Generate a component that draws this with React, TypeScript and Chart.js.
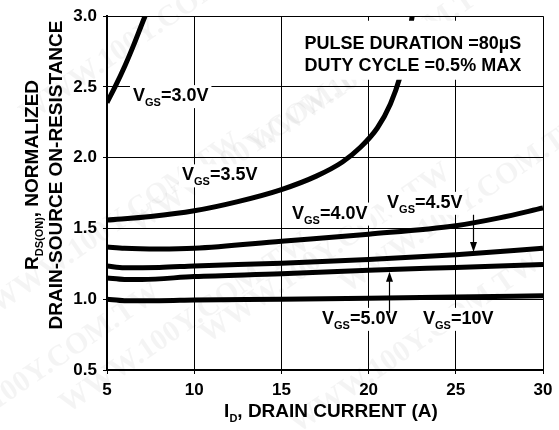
import React, { useEffect, useRef } from "react";
import { Chart, registerables } from "chart.js";

Chart.register(...registerables);

// ---- data ----
const X_MIN = 5;
const X_MAX = 30;
const Y_MIN = 0.5;
const Y_MAX = 3.0;

const vgs10X = [5, 6, 8, 10, 15, 20, 25, 30];
const vgs10Y = [1.0, 0.99, 0.99, 0.995, 1.0, 1.007, 1.015, 1.025];

const vgs50X = [5, 6, 7, 10, 15, 20, 25, 30];
const vgs50Y = [1.15, 1.14, 1.14, 1.16, 1.18, 1.205, 1.225, 1.245];

const vgs45X = [5, 6, 8, 10, 15, 20, 25, 30];
const vgs45Y = [1.235, 1.222, 1.225, 1.235, 1.255, 1.28, 1.315, 1.36];

const vgs40X = [5, 6, 8, 10, 15, 20, 25, 27.5, 30];
const vgs40Y = [1.37, 1.36, 1.355, 1.36, 1.41, 1.46, 1.52, 1.575, 1.645];

const vgs35X = [5, 7.5, 10, 12.5, 15, 17, 18.5, 19.5, 20.5, 21.25, 21.8, 22.2, 22.5, 22.55];
const vgs35Y = [1.56, 1.585, 1.625, 1.69, 1.775, 1.87, 1.97, 2.07, 2.21, 2.38, 2.57, 2.78, 3.0, 3.04];

const vgs30X = [5, 5.46, 6.03, 6.51, 7.18, 7.25];
const vgs30Y = [2.39, 2.5, 2.65, 2.79, 3.0, 3.02];

const seriesNames = ["VGS=10V", "VGS=5.0V", "VGS=4.5V", "VGS=4.0V", "VGS=3.5V", "VGS=3.0V"];
const seriesX = [vgs10X, vgs50X, vgs45X, vgs40X, vgs35X, vgs30X];
const seriesY = [vgs10Y, vgs50Y, vgs45Y, vgs40Y, vgs35Y, vgs30Y];

// curve labels: text after "V_GS", anchor (left, baseline) in data coordinates
const curveLabels: [string, number, number][] = [
  ["=3.0V", 6.49, 2.4],
  ["=3.5V", 9.3, 1.84],
  ["=4.0V", 15.61, 1.57],
  ["=4.5V", 21.06, 1.646],
  ["=5.0V", 17.33, 0.826],
  ["=10V", 23.12, 0.826],
];

const noteLines = ["PULSE DURATION =80\u00B5S", "DUTY CYCLE =0.5% MAX"];

const FONT = '"Liberation Sans", Arial, sans-serif';

function drawRich(
  ctx: CanvasRenderingContext2D,
  parts: { t: string; sub?: boolean }[],
  x: number,
  y: number,
  size: number,
  subSize: number,
  subDrop: number
) {
  let cx = x;
  for (const p of parts) {
    ctx.font = `bold ${p.sub ? subSize : size}px ${FONT}`;
    ctx.fillText(p.t, cx, p.sub ? y + subDrop : y);
    cx += ctx.measureText(p.t).width;
  }
  return cx - x;
}

function richWidth(
  ctx: CanvasRenderingContext2D,
  parts: { t: string; sub?: boolean }[],
  size: number,
  subSize: number
) {
  let w = 0;
  for (const p of parts) {
    ctx.font = `bold ${p.sub ? subSize : size}px ${FONT}`;
    w += ctx.measureText(p.t).width;
  }
  return w;
}

const watermarkPlugin = {
  id: "watermark",
  beforeDraw(chart: any) {
    const ctx = chart.ctx as CanvasRenderingContext2D;
    ctx.save();
    ctx.fillStyle = "rgba(0,0,0,0.045)";
    ctx.font = 'bold 30px "Liberation Serif", serif';
    const spots = [
      [150, 40], [260, 150], [120, 230], [380, 70], [330, 260],
      [190, 330], [470, 210], [420, 350], [40, 380],
    ];
    for (const [x, y] of spots) {
      ctx.save();
      ctx.translate(x, y);
      ctx.rotate(-0.6);
      ctx.textAlign = "center";
      ctx.fillText("WWW.100Y.COM.TW", 0, 0);
      ctx.restore();
    }
    ctx.restore();
  },
};

const annotationPlugin = {
  id: "annot",
  beforeDatasetsDraw(chart: any) {
    const ctx = chart.ctx as CanvasRenderingContext2D;
    const xs = chart.scales.x;
    const ys = chart.scales.y;
    ctx.save();
    ctx.textBaseline = "alphabetic";
    ctx.textAlign = "left";
    for (const [txt, dx, dy] of curveLabels) {
      const px = xs.getPixelForValue(dx);
      const py = ys.getPixelForValue(dy);
      const parts = [{ t: "V" }, { t: "GS", sub: true }, { t: txt }];
      const w = richWidth(ctx, parts, 18, 11);
      ctx.fillStyle = "#fff";
      ctx.fillRect(px - 3, py - 16, w + 6, 23);
      ctx.fillStyle = "#000";
      drawRich(ctx, parts, px, py, 18, 11, 5);
    }
    ctx.restore();
  },
  afterDatasetsDraw(chart: any) {
    const ctx = chart.ctx as CanvasRenderingContext2D;
    const xs = chart.scales.x;
    const ys = chart.scales.y;
    ctx.save();
    const nx = xs.getPixelForValue(16.33);
    const ny = ys.getPixelForValue(2.77);
    ctx.font = `bold 18px ${FONT}`;
    ctx.textBaseline = "alphabetic";
    ctx.textAlign = "left";
    const w1 = Math.max(...noteLines.map((l) => ctx.measureText(l).width));
    ctx.fillStyle = "#fff";
    ctx.fillRect(nx - 4, ny - 28, w1 + 8, 59);
    ctx.fillStyle = "#000";
    ctx.fillText(noteLines[0], nx, ny);
    ctx.fillText(noteLines[1], nx, ny + 22);

    ctx.strokeStyle = "#000";
    ctx.lineWidth = 1.2;
    const arrows: [number, number, number][] = [
      [26.0, 1.597, 1.333],
      [21.17, 0.903, 1.194],
    ];
    for (const [ax, y0, y1] of arrows) {
      const px = Math.round(xs.getPixelForValue(ax)) + 0.5;
      const p0 = ys.getPixelForValue(y0);
      const p1 = ys.getPixelForValue(y1);
      const dir = p1 > p0 ? 1 : -1;
      ctx.beginPath();
      ctx.moveTo(px, p0);
      ctx.lineTo(px, p1 - dir * 8);
      ctx.stroke();
      ctx.beginPath();
      ctx.moveTo(px, p1);
      ctx.lineTo(px - 3.5, p1 - dir * 10);
      ctx.lineTo(px + 3.5, p1 - dir * 10);
      ctx.closePath();
      ctx.fill();
    }
    ctx.restore();
  },
  afterDraw(chart: any) {
    const ctx = chart.ctx as CanvasRenderingContext2D;
    const area = chart.chartArea;
    ctx.save();
    ctx.fillStyle = "#000";
    ctx.textBaseline = "alphabetic";
    ctx.textAlign = "left";
    const xParts = [{ t: "I" }, { t: "D", sub: true }, { t: ", DRAIN CURRENT (A)" }];
    const xw = richWidth(ctx, xParts, 19, 11);
    const xc = (area.left + area.right) / 2 + 6;
    drawRich(ctx, xParts, xc - xw / 2, 417, 19, 11, 5);
    const yc = 175;
    ctx.translate(38, yc);
    ctx.rotate(-Math.PI / 2);
    const y1Parts = [{ t: "R" }, { t: "DS(ON)", sub: true }, { t: ", NORMALIZED" }];
    const yw1 = richWidth(ctx, y1Parts, 19, 11);
    drawRich(ctx, y1Parts, -yw1 / 2, 0, 19, 11, 5);
    const y2Parts = [{ t: "DRAIN-SOURCE ON-RESISTANCE" }];
    const yw2 = richWidth(ctx, y2Parts, 19, 11);
    drawRich(ctx, y2Parts, -yw2 / 2, 24, 19, 11, 5);
    ctx.restore();
  },
};

export default function App() {
  const ref = useRef<HTMLCanvasElement | null>(null);
  useEffect(() => {
    document.body.style.margin = "0";
    const canvas = ref.current;
    if (!canvas) return;
    const datasets = seriesNames.map((name, i) => ({
      label: name,
      data: seriesX[i].map((x, j) => ({ x, y: seriesY[i][j] })),
      borderColor: "#000",
      backgroundColor: "#000",
      borderWidth: 5,
      pointRadius: 0,
      fill: false,
      cubicInterpolationMode: "monotone" as const,
      borderCapStyle: "butt" as const,
    }));
    const chart = new Chart(canvas, {
      type: "line",
      data: { datasets },
      plugins: [watermarkPlugin, annotationPlugin],
      options: {
        animation: false,
        responsive: false,
        devicePixelRatio: 1,
        layout: { padding: { top: 10, right: 16, left: 0, bottom: 0 } },
        plugins: { legend: { display: false }, tooltip: { enabled: false } },
        scales: {
          x: {
            type: "linear",
            min: X_MIN,
            max: X_MAX,
            ticks: {
              stepSize: 5,
              color: "#000",
              font: { family: FONT, size: 17, weight: "bold" },
              padding: 6,
              maxRotation: 0,
            },
            grid: { color: "#000", lineWidth: 1, tickLength: 4 },
            border: { color: "#000", width: 2 },
            afterFit: (s: any) => {
              s.height = 60;
            },
          },
          y: {
            type: "linear",
            min: Y_MIN,
            max: Y_MAX,
            ticks: {
              stepSize: 0.5,
              color: "#000",
              font: { family: FONT, size: 17, weight: "bold" },
              padding: 6,
              callback: (v: any) => Number(v).toFixed(1),
            },
            grid: { color: "#000", lineWidth: 1, tickLength: 4 },
            border: { color: "#000", width: 2 },
            afterFit: (s: any) => {
              s.width = 107;
            },
          },
        },
      },
    });
    return () => chart.destroy();
  }, []);
  return (
    <div style={{ width: 559, height: 430, background: "#fff" }}>
      <canvas ref={ref} width={559} height={430} style={{ display: "block", width: 559, height: 430 }} />
    </div>
  );
}
